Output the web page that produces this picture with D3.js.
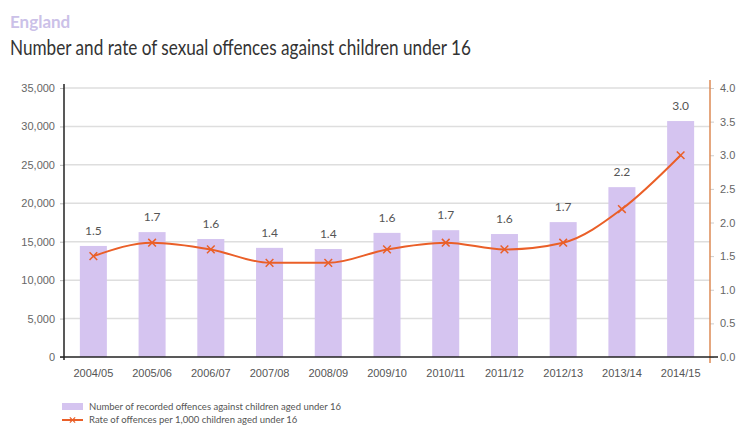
<!DOCTYPE html>
<html>
<head>
<meta charset="utf-8">
<script src="https://cdn.jsdelivr.net/npm/d3@7"></script>
<style>
  body { margin: 0; background: #fff; }
  svg { display: block; font-family: Lato, "Open Sans", sans-serif; }
</style>
</head>
<body>
<div id="chart"></div>
<script>
let years = ['2004/05', '2005/06', '2006/07', '2007/08', '2008/09', '2009/10', '2010/11', '2011/12', '2012/13', '2013/14', '2014/15'];
let offences = [14450, 16250, 15350, 14200, 14050, 16150, 16500, 16000, 17550, 22100, 30700];
let rates = [1.5, 1.7, 1.6, 1.4, 1.4, 1.6, 1.7, 1.6, 1.7, 2.2, 3.0];
let leftTicks = [0, 5000, 10000, 15000, 20000, 25000, 30000, 35000];
let rightTicks = [0, 0.5, 1.0, 1.5, 2.0, 2.5, 3.0, 3.5, 4.0];

let svgWidth = 743, svgHeight = 429;
let margin = { top: 88, right: 33, bottom: 72, left: 64 };
let width = svgWidth - margin.left - margin.right;
let height = svgHeight - margin.top - margin.bottom;

let barColor = '#d5c4f0';
let lineColor = '#ea5f28';

let root = d3.select('#chart').append('svg')
    .attr('width', svgWidth)
    .attr('height', svgHeight);

root.append('text')
    .attr('x', 10).attr('y', 28)
    .attr('fill', '#cbc1e8')
    .style('font-size', '17px')
    .style('font-weight', 'bold')
    .text('England');

root.append('text')
    .attr('x', 10).attr('y', 55)
    .attr('fill', '#333')
    .style('font-size', '21px')
    .attr('textLength', 461)
    .attr('lengthAdjust', 'spacingAndGlyphs')
    .text('Number and rate of sexual offences against children under 16');

let svg = root.append('g')
    .attr('transform', 'translate(' + margin.left + ',' + margin.top + ')');

let x = d3.scaleBand()
    .range([0, width])
    .paddingInner(0.54)
    .paddingOuter(0.27)
    .domain(years);

let y = d3.scaleLinear()
    .range([height, 0])
    .domain([0, 35000]);

let y2 = d3.scaleLinear()
    .range([height, 0])
    .domain([0, 4]);

// gridlines
svg.selectAll('.grid')
    .data(leftTicks.slice(1))
    .enter().append('line')
    .attr('x1', 0).attr('x2', width)
    .attr('y1', d => y(d)).attr('y2', d => y(d))
    .attr('stroke', '#dedede')
    .attr('stroke-width', 1.5);

// bars
svg.selectAll('.bar')
    .data(years)
    .enter().append('rect')
    .attr('x', d => x(d))
    .attr('width', x.bandwidth())
    .attr('y', (d, i) => y(offences[i]))
    .attr('height', (d, i) => height - y(offences[i]))
    .attr('fill', barColor);

// value labels
svg.selectAll('.lbl')
    .data(years)
    .enter().append('text')
    .attr('x', d => x(d) + x.bandwidth() / 2)
    .attr('y', (d, i) => y(offences[i]) - 11)
    .attr('text-anchor', 'middle')
    .attr('fill', '#555')
    .style('font-size', '12px')
    .text((d, i) => rates[i].toFixed(1));

// left axis
let leftAxis = svg.append('g')
    .call(d3.axisLeft(y).tickValues(leftTicks).tickSize(4).tickPadding(5)
        .tickFormat(d3.format(',')));
leftAxis.select('.domain').remove();
leftAxis.selectAll('.tick line').attr('stroke', '#bbb');
leftAxis.selectAll('.tick text').attr('fill', '#666').style('font-size', '11px');
svg.append('line')
    .attr('x1', 0).attr('x2', 0)
    .attr('y1', -4).attr('y2', height + 3)
    .attr('stroke', '#222').attr('stroke-width', 1.5);

// right axis
let rightAxis = svg.append('g')
    .attr('transform', 'translate(' + width + ',0)')
    .call(d3.axisRight(y2).tickValues(rightTicks).tickSize(4).tickPadding(6)
        .tickFormat(d3.format('.1f')));
rightAxis.select('.domain').remove();
rightAxis.selectAll('.tick line').attr('stroke', '#ccc');
rightAxis.selectAll('.tick text').attr('fill', '#666').style('font-size', '11px');
svg.append('line')
    .attr('x1', width).attr('x2', width)
    .attr('y1', -8).attr('y2', height + 6)
    .attr('stroke', '#dc8a55').attr('stroke-width', 1.5);

// bottom axis
let bottomAxis = svg.append('g')
    .attr('transform', 'translate(0,' + height + ')')
    .call(d3.axisBottom(x).tickSize(0).tickPadding(12));
bottomAxis.select('.domain').remove();
bottomAxis.selectAll('.tick text').attr('fill', '#555').style('font-size', '11px');
svg.append('line')
    .attr('x1', -4).attr('x2', width + 8)
    .attr('y1', height).attr('y2', height)
    .attr('stroke', '#222').attr('stroke-width', 1.5);

// rate line
let line = d3.line()
    .x((d, i) => x(years[i]) + x.bandwidth() / 2)
    .y(d => y2(d))
    .curve(d3.curveMonotoneX);

svg.append('path')
    .datum(rates)
    .attr('d', line)
    .attr('fill', 'none')
    .attr('stroke', lineColor)
    .attr('stroke-width', 2);

let cross = d3.symbol().type(d3.symbolX).size(40);
svg.selectAll('.mark')
    .data(rates)
    .enter().append('path')
    .attr('transform', (d, i) => 'translate(' + (x(years[i]) + x.bandwidth() / 2) + ',' + y2(d) + ')')
    .attr('d', cross)
    .attr('fill', 'none')
    .attr('stroke', lineColor)
    .attr('stroke-width', 1.5);

// legend
let legend = root.append('g').attr('transform', 'translate(62,0)');
legend.append('rect')
    .attr('x', 0).attr('y', 403)
    .attr('width', 21).attr('height', 7)
    .attr('fill', barColor);
legend.append('text')
    .attr('x', 27).attr('y', 410)
    .attr('fill', '#555')
    .style('font-size', '9.5px')
    .text('Number of recorded offences against children aged under 16');
legend.append('line')
    .attr('x1', 0).attr('x2', 21)
    .attr('y1', 420).attr('y2', 420)
    .attr('stroke', lineColor).attr('stroke-width', 2);
legend.append('path')
    .attr('transform', 'translate(10.5,420)')
    .attr('d', d3.symbol().type(d3.symbolX).size(20))
    .attr('fill', 'none')
    .attr('stroke', lineColor)
    .attr('stroke-width', 1.2);
legend.append('text')
    .attr('x', 27).attr('y', 423)
    .attr('fill', '#555')
    .style('font-size', '9.5px')
    .text('Rate of offences per 1,000 children aged under 16');
</script>
</body>
</html>
